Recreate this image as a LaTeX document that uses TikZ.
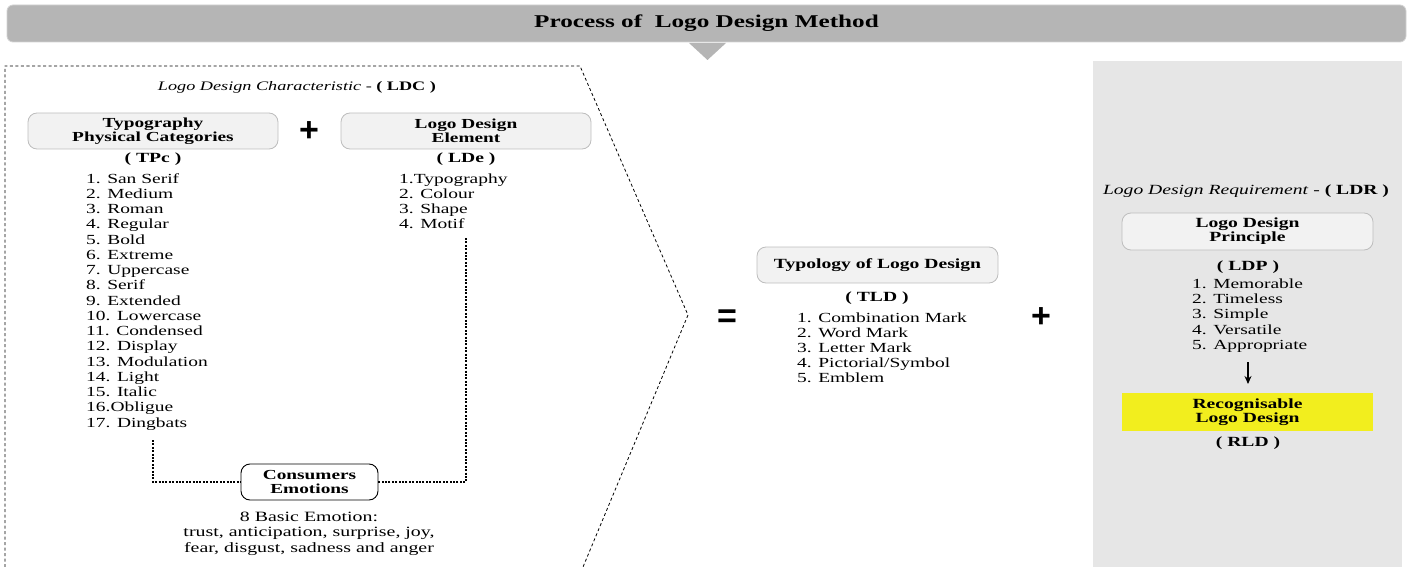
\documentclass[tikz,border=0pt]{standalone}
\usepackage{fontspec}
\setmainfont[FakeStretch=1.4]{Liberation Serif}
\newfontfamily\symfont{Liberation Sans}
\usetikzlibrary{arrows.meta}
\definecolor{bargray}{HTML}{B5B5B5}
\definecolor{bargrayedge}{HTML}{D2D2D2}
\definecolor{panelgray}{HTML}{E6E6E6}
\definecolor{boxfill}{HTML}{F2F2F2}
\definecolor{boxedge}{HTML}{BDBDBD}
\definecolor{hiyellow}{HTML}{F2EE1E}
\tikzset{
  catbox/.style={draw=boxedge, fill=boxfill, rounded corners=9pt, line width=0.8pt,
    align=center, inner sep=0pt, font=\fontsize{13.8}{14}\selectfont\bfseries},
  listtxt/.style={anchor=base west, inner sep=0pt, font=\fontsize{13.9}{15}\selectfont},
  abbr/.style={anchor=base, inner sep=0pt, font=\fontsize{14}{15}\selectfont\bfseries},
  emotxt/.style={anchor=base, inner sep=0pt, font=\fontsize{14.2}{15}\selectfont},
  opsign/.style={inner sep=0pt, font=\symfont\bfseries\fontsize{34}{34}\selectfont},
  linkline/.style={line width=2.3pt, dash pattern=on 2pt off 1.4pt},
  frameline/.style={line width=0.8pt, dash pattern=on 3pt off 2.5pt},
}
\begin{document}
\begin{tikzpicture}[x=1pt, y=-1pt]
\useasboundingbox (0,0) rectangle (1409,567);

% heading bar and pointer
\node[draw=bargrayedge, fill=bargray, rounded corners=6pt, line width=0.8pt,
      minimum width=1399pt, minimum height=37pt, inner sep=0pt,
      font=\fontsize{18}{18}\selectfont\bfseries] (title) at (706.5,23.5)
      {Process of\ \ Logo Design Method};
\fill[bargray] (689,43) -- (726,43) -- (707.5,60) -- cycle;

% requirement panel
\fill[panelgray] (1093,61) rectangle (1402,567);

% characteristic frame
\draw[frameline] (5,567) -- (5,66) -- (580,66) -- (688,315) -- (583,567);

% characteristic header
\node[anchor=base, inner sep=0pt, font=\fontsize{13}{15}\selectfont] (ldc) at (297,90.5)
  {\itshape Logo Design Characteristic\/ \upshape - \bfseries ( LDC )};

% typography physical categories
\node[catbox, minimum width=250pt, minimum height=36pt] (tpc) at (153,131)
  {Typography\\Physical Categories};
\node[abbr] (tpcab) at (153,162.5) {( TPc )};
\foreach \t [count=\i] in {1. San Serif, 2. Medium, 3. Roman, 4. Regular, 5. Bold,
  6. Extreme, 7. Uppercase, 8. Serif, 9. Extended, 10. Lowercase, 11. Condensed,
  12. Display, 13. Modulation, 14. Light, 15. Italic, 16.Obligue, 17. Dingbats}
  \node[listtxt] (tpc-\i) at (86,{183+15.25*(\i-1)}) {\t};

\node[opsign] (plusA) at (309,132) {+};

% logo design element
\node[catbox, minimum width=250pt, minimum height=36pt] (lde) at (466,131)
  {Logo Design\\Element};
\node[abbr] (ldeab) at (466,162.5) {( LDe )};
\foreach \t [count=\i] in {1.Typography, 2. Colour, 3. Shape, 4. Motif}
  \node[listtxt] (lde-\i) at (399,{183+15.25*(\i-1)}) {\t};

% consumers emotions
\node[draw, fill=white, rounded corners=9pt, line width=0.9pt, align=center,
      minimum width=137pt, minimum height=36pt, inner sep=0pt,
      font=\fontsize{13.8}{14}\selectfont\bfseries] (cons) at (309.5,482)
      {Consumers\\Emotions};
\coordinate (tpcEnd) at (153,440);
\coordinate (ldeEnd) at (466,238);
\draw[linkline] (tpcEnd) |- (cons.west);
\draw[linkline] (ldeEnd) |- (cons.east);
\node[emotxt] (emo1) at (309,521) {8 Basic Emotion:};
\node[emotxt] (emo2) at (309,536.5) {trust, anticipation, surprise, joy,};
\node[emotxt] (emo3) at (309,552) {fear, disgust, sadness and anger};

% result
\node[opsign] (equals) at (727,319) {=};
\node[catbox, font=\fontsize{14}{14}\selectfont\bfseries,
      minimum width=241pt, minimum height=36pt] (tld) at (877.5,265)
  {Typology of Logo Design};
\node[abbr] (tldab) at (877,301.5) {( TLD )};
\foreach \t [count=\i] in {1. Combination Mark, 2. Word Mark, 3. Letter Mark,
  4. Pictorial/Symbol, 5. Emblem}
  \node[listtxt] (tld-\i) at (797,{322.5+15*(\i-1)}) {\t};

\node[opsign] (plusB) at (1041,318) {+};

% requirement
\node[anchor=base, inner sep=0pt, font=\fontsize{14}{15}\selectfont] (ldr) at (1246,194.5)
  {\itshape Logo Design Requirement\/ \upshape - \bfseries ( LDR )};
\node[catbox, font=\fontsize{14}{14}\selectfont\bfseries,
      minimum width=251pt, minimum height=37pt] (ldp) at (1247.5,231.5)
  {Logo Design\\Principle};
\node[abbr] (ldpab) at (1248,270.5) {( LDP )};
\foreach \t [count=\i] in {1. Memorable, 2. Timeless, 3. Simple, 4. Versatile, 5. Appropriate}
  \node[listtxt] (ldp-\i) at (1192,{288.5+15.2*(\i-1)}) {\t};

\node[fill=hiyellow, align=center, minimum width=251pt, minimum height=38pt, inner sep=0pt,
      font=\fontsize{14}{13.5}\selectfont\bfseries] (rld) at (1247.5,412)
  {Recognisable\\Logo Design};
\node[abbr] (rldab) at (1248,446.5) {( RLD )};
\coordinate (arrTop) at (1248,362);
\draw[line width=1.1pt, -{Stealth[length=8pt, width=7pt]}] (arrTop) -- (1248,384);

\end{tikzpicture}
\end{document}
